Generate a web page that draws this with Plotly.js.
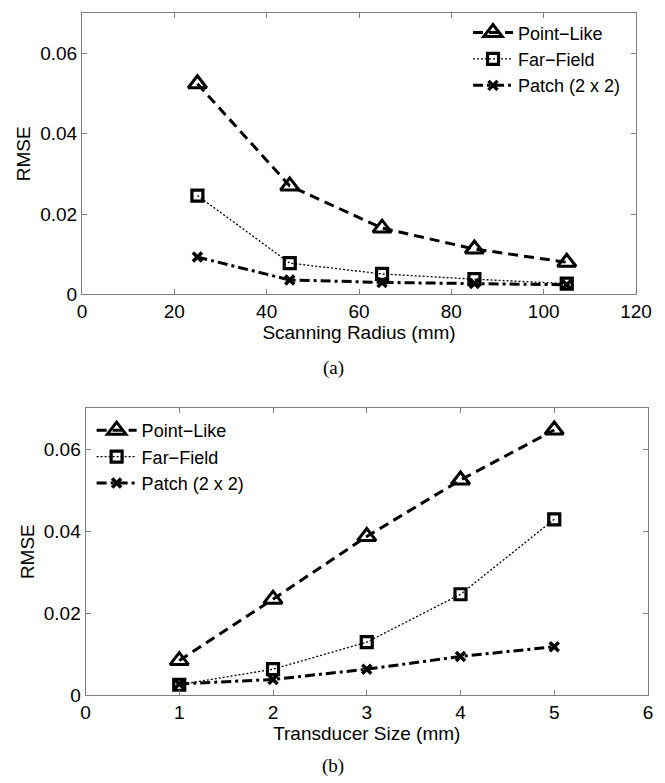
<!DOCTYPE html>
<html>
<head>
<meta charset="utf-8">
<script src="https://cdn.plot.ly/plotly-3.0.1.min.js"></script>
<style>html,body{margin:0;padding:0;background:#fff;}#chart{width:665px;height:783px;}</style>
</head>
<body>
<div id="chart"></div>
<script>
// ---- Data ----
const seriesNames = ["Point\u2212Like", "Far\u2212Field", "Patch (2 x 2)"];

// (a) RMSE vs scanning radius
const scanRadius = [25, 45, 65, 85, 105];
const rmseA_point = [0.0524, 0.0270, 0.0165, 0.0113, 0.0080];
const rmseA_far   = [0.0246, 0.0078, 0.0051, 0.0038, 0.0027];
const rmseA_patch = [0.0093, 0.0036, 0.0030, 0.0027, 0.0024];

// (b) RMSE vs transducer size
const transducerSize = [1, 2, 3, 4, 5];
const rmseB_point = [0.0084, 0.0234, 0.0387, 0.0525, 0.0647];
const rmseB_far   = [0.0025, 0.0063, 0.0129, 0.0246, 0.0429];
const rmseB_patch = [0.0027, 0.0038, 0.0063, 0.0094, 0.0118];

const captions = ["(a)", "(b)"];
const xTitles = ["Scanning Radius (mm)", "Transducer Size (mm)"];
const yTitle = "RMSE";

// ---- Styles ----
const FONT = "Liberation Sans, Arial, Helvetica, sans-serif";
const FS = 19;
const styles = [
  {line: {color: "#000", width: 3, dash: "10px,6px"},
   marker: {symbol: "triangle-up-open", size: 16, color: "#000", line: {width: 3, color: "#000"}}},
  {line: {color: "#000", width: 1.3, dash: "2px,2px"},
   marker: {symbol: "square-open", size: 11, color: "#000", line: {width: 3.2, color: "#000"}}},
  {line: {color: "#000", width: 3, dash: "10px,4px,3px,4px"},
   marker: {symbol: "x-thin", size: 9, color: "#000", line: {width: 3.5, color: "#000"}}}
];

function mk(x, y, i, xa, ya, leg) {
  return {
    x: x, y: y, type: "scatter", mode: "lines+markers",
    name: seriesNames[i], xaxis: xa, yaxis: ya, legend: leg,
    line: styles[i].line, marker: styles[i].marker, cliponaxis: false
  };
}

const data = [
  mk(scanRadius, rmseA_point, 0, "x", "y", "legend"),
  mk(scanRadius, rmseA_far, 1, "x", "y", "legend"),
  mk(scanRadius, rmseA_patch, 2, "x", "y", "legend"),
  mk(transducerSize, rmseB_point, 0, "x2", "y2", "legend2"),
  mk(transducerSize, rmseB_far, 1, "x2", "y2", "legend2"),
  mk(transducerSize, rmseB_patch, 2, "x2", "y2", "legend2")
];

function axis(extra) {
  return Object.assign({
    showline: true, linecolor: "#808080", linewidth: 1, mirror: "ticks",
    ticks: "inside", ticklen: 5, tickcolor: "#808080", tickwidth: 1,
    showgrid: false, zeroline: false, fixedrange: true,
    tickfont: {family: FONT, size: FS, color: "#000"},
    ticklabelstandoff: 0
  }, extra);
}

const legendStyle = {
  font: {family: FONT, size: 18, color: "#000"},
  bgcolor: "rgba(255,255,255,0)", borderwidth: 0,
  tracegroupgap: 0, itemwidth: 40
};

const layout = {
  width: 665, height: 783,
  margin: {l: 82, r: 17, t: 13, b: 88},
  paper_bgcolor: "#fff", plot_bgcolor: "#fff",
  font: {family: FONT, size: FS, color: "#000"},
  xaxis: axis({domain: [0, 0.9788], range: [0, 120], dtick: 20, tick0: 0, anchor: "y",
    title: {text: xTitles[0], font: {family: FONT, size: FS, color: "#000"}, standoff: 0}}),
  yaxis: axis({domain: [0.5873, 1], range: [0, 0.07], dtick: 0.02, tick0: 0, anchor: "x",
    title: {text: yTitle, font: {family: FONT, size: FS, color: "#000"}, standoff: 4}}),
  xaxis2: axis({domain: [0.0062, 1], range: [0, 6], dtick: 1, tick0: 0, anchor: "y2",
    title: {text: xTitles[1], font: {family: FONT, size: FS, color: "#000"}, standoff: 0}}),
  yaxis2: axis({domain: [0, 0.4204], range: [0, 0.07], dtick: 0.02, tick0: 0, anchor: "x2",
    title: {text: yTitle, font: {family: FONT, size: FS, color: "#000"}, standoff: 4}}),
  legend: Object.assign({x: 0.682, y: 0.998, xanchor: "left", yanchor: "top"}, legendStyle),
  legend2: Object.assign({x: 0.017, y: 0.415, xanchor: "left", yanchor: "top"}, legendStyle),
  showlegend: true,
  annotations: [
    {text: captions[0], xref: "paper", yref: "paper", x: 0.4435, y: 0.4795,
     showarrow: false, font: {family: "Liberation Serif, serif", size: 19, color: "#000"}},
    {text: captions[1], xref: "paper", yref: "paper", x: 0.4435, y: -0.1232,
     showarrow: false, font: {family: "Liberation Serif, serif", size: 19, color: "#000"}}
  ]
};

Plotly.newPlot("chart", data, layout, {displayModeBar: false, staticPlot: true});
</script>
</body>
</html>
